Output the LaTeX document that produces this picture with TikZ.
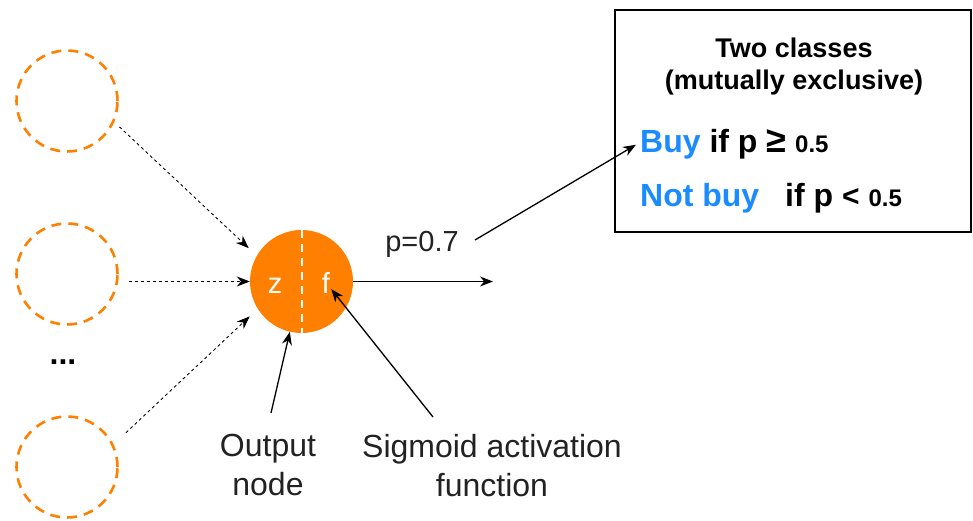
\documentclass[tikz,border=0pt]{standalone}
\usepackage{fontspec}
\setmainfont{Liberation Sans}
\usetikzlibrary{arrows.meta}
\definecolor{nnorange}{HTML}{FF8000}
\definecolor{nnblue}{HTML}{1A8CFF}
\definecolor{nntext}{HTML}{222222}
\newcommand{\pxsize}[2]{\fontsize{#1}{#2}\selectfont}

\begin{document}
\begin{tikzpicture}[x=1pt,y=-1pt,
  input/.style={circle,draw=nnorange,line width=2.6pt,dash pattern=on 10pt off 7pt,minimum size=101pt,inner sep=0pt},
  neuron/.style={circle,fill=nnorange,minimum size=103pt,inner sep=0pt},
  arr/.style={line width=1.3pt,-{Stealth[length=13pt,width=10pt]}},
  dasharr/.style={line width=0.9pt,dash pattern=on 3pt off 3pt,-{Stealth[length=13pt,width=10pt]}},
  lbl/.style={align=center,inner sep=0pt,anchor=north,text=nntext,font=\pxsize{32}{39}}]
\useasboundingbox (0,0) rectangle (973,521);

% input layer
\node[input] (in1) at (67,101) {};
\node[input] (in2) at (67,274) {};
\node[input] (in3) at (67,467) {};
\node[font=\bfseries\pxsize{32}{32}] (dots) at (63,362) {...};

% output neuron
\node[neuron] (out) at (301.5,281.5) {};
\draw[white,line width=2pt,dash pattern=on 8pt off 6pt] (out.north) -- (out.south);
\node[text=white,anchor=base,inner sep=1pt,font=\pxsize{29}{29}] (zin) at (275,293) {z};
\node[text=white,anchor=base,inner sep=1pt,font=\pxsize{29}{29}] (fact) at (326,293) {f};

\draw[dasharr,shorten <=7pt,shorten >=11pt] (in1.-24) -- (out.150);
\draw[dasharr] ([xshift=10pt]in2.east |- out.west) -- (out.west);
\draw[dasharr,shorten <=17pt,shorten >=11pt] (in3.26) -- (out.212);

% output
\coordinate (pend) at (493,281.5);
\draw[arr] (out) -- (pend);
\node[text=nntext,font=\pxsize{29}{29}] (plab) at (422,244) {p=0.7};
\coordinate (pstart) at (475,240);

% classes box
\node[draw,line width=1.3pt,minimum width=356pt,minimum height=222pt,inner sep=0pt] (classbox) at (793,121) {};
\node[align=center,font=\bfseries\pxsize{27}{32}] (title) at (794,67) {Two classes\\(mutually exclusive)};
\node[anchor=base west,inner sep=4pt,font=\bfseries\pxsize{32}{32}] (buy) at (636,153)
  {\textcolor{nnblue}{Buy} if p {\pxsize{36}{36}≥}\hspace{9pt}{\pxsize{24}{24}0.5}};
\node[anchor=base west,inner sep=4pt,font=\bfseries\pxsize{32}{32}] (notbuy) at (636,207)
  {\textcolor{nnblue}{Not buy}\hspace{17pt} if p {\pxsize{30}{30}<}\hspace{9pt}{\pxsize{24}{24}0.5}};
\draw[arr] (pstart) -- (buy.west);

% labels
\node[lbl] (outlab) at (268,434) {Output\\node};
\node[lbl] (sigmlab) at (492,434) {Sigmoid activation\\function};
\draw[arr] ([shift={(3,-21)}]outlab.north) -- (out);
\draw[arr] ([shift={(-59,-17)}]sigmlab.north) -- (fact);

\end{tikzpicture}
\end{document}
